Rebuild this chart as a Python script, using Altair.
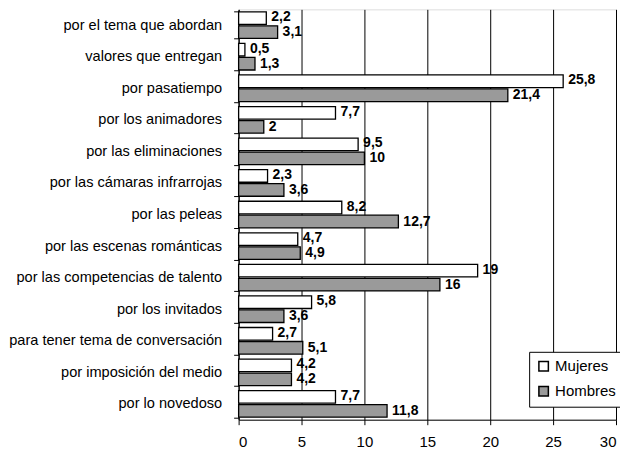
import altair as alt
import pandas as pd

categories = [
    "por el tema que abordan",
    "valores que entregan",
    "por pasatiempo",
    "por los animadores",
    "por las eliminaciones",
    "por las cámaras infrarrojas",
    "por las peleas",
    "por las escenas románticas",
    "por las competencias de talento",
    "por los invitados",
    "para tener tema de conversación",
    "por imposición del medio",
    "por lo novedoso",
]
mujeres = [2.2, 0.5, 25.8, 7.7, 9.5, 2.3, 8.2, 4.7, 19, 5.8, 2.7, 4.2, 7.7]
hombres = [3.1, 1.3, 21.4, 2, 10, 3.6, 12.7, 4.9, 16, 3.6, 5.1, 4.2, 11.8]
series = ["Mujeres", "Hombres"]
x_ticks = [0, 5, 10, 15, 20, 25, 30]


def fmt(v):
    return f"{v:g}".replace(".", ",")


rows = []
for c, m, h in zip(categories, mujeres, hombres):
    rows.append({"cat": c, "serie": "Mujeres", "val": m, "label": fmt(m)})
    rows.append({"cat": c, "serie": "Hombres", "val": h, "label": fmt(h)})
df = pd.DataFrame(rows)

FONT = "Liberation Sans"

y = alt.Y(
    "cat:N",
    sort=categories,
    title=None,
    scale=alt.Scale(paddingInner=0.14, paddingOuter=0.07),
    axis=alt.Axis(
        tickBand="extent",
        labelFont=FONT,
        labelFontSize=14.6,
        labelColor="black",
        tickColor="black",
        domainColor="black",
        tickSize=5,
        labelPadding=12,
        grid=False,
        labelLimit=300,
    ),
)
yoff = alt.YOffset(
    "serie:N", sort=series, scale=alt.Scale(domain=series, paddingInner=0.1, paddingOuter=0.02)
)
x = alt.X(
    "val:Q",
    title=None,
    scale=alt.Scale(domain=[0, 30], nice=False),
    axis=alt.Axis(
        values=x_ticks,
        grid=True,
        gridColor="black",
        gridOpacity=1,
        gridWidth=1,
        tickColor="black",
        domainColor="black",
        tickSize=5,
        labelFont=FONT,
        labelFontSize=15,
        labelColor="black",
        labelPadding=10,
    ),
)
color = alt.Color(
    "serie:N",
    sort=series,
    scale=alt.Scale(domain=series, range=["white", "#9a9a9a"]),
    legend=alt.Legend(
        title=None,
        orient="none",
        legendX=291,
        legendY=343,
        strokeColor="black",
        fillColor="white",
        padding=7,
        symbolType="square",
        symbolSize=90,
        symbolStrokeColor="black",
        symbolStrokeWidth=1.5,
        labelFont=FONT,
        labelFontSize=15,
        labelColor="black",
        rowPadding=8,
    ),
)

bars = alt.Chart(df).mark_bar(stroke="black", strokeWidth=1.3).encode(
    y=y, x=x, yOffset=yoff, color=color
)

text_m = (
    alt.Chart(df)
    .transform_filter(alt.datum.serie == "Mujeres")
    .mark_text(align="left", baseline="middle", dx=5, dy=-1, font=FONT, fontSize=14, fontWeight="bold", color="black")
    .encode(y=y, x=x, yOffset=yoff, text="label:N")
)
text_h = (
    alt.Chart(df)
    .transform_filter(alt.datum.serie == "Hombres")
    .mark_text(align="left", baseline="middle", dx=5, dy=0, font=FONT, fontSize=14, fontWeight="bold", color="black")
    .encode(y=y, x=x, yOffset=yoff, text="label:N")
)

chart = (
    alt.layer(bars, text_m, text_h)
    .properties(
        width=378,
        height=411,
        autosize=alt.AutoSizeParams(type="none"),
        padding={"left": 231, "top": 1, "right": 4, "bottom": 30},
    )
    .configure_view(stroke="black", strokeWidth=1)
    .configure(background="white")
)

chart.save("out.html", embed_options={"renderer": "svg", "actions": False})
